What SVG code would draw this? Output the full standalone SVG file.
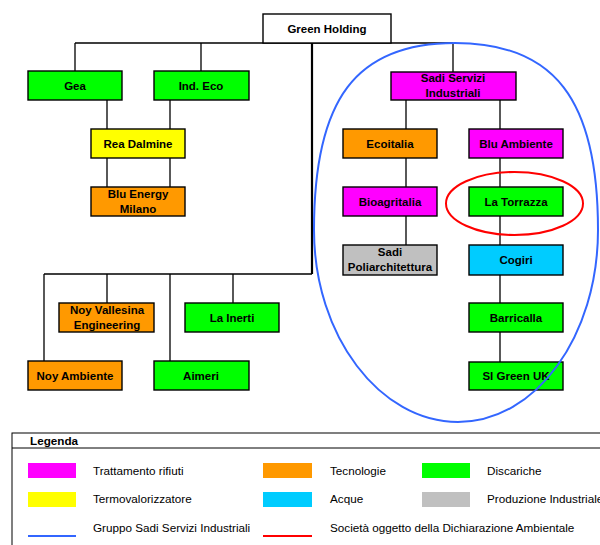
<svg xmlns="http://www.w3.org/2000/svg" width="600" height="545" viewBox="0 0 600 545">
<style>
  .box{stroke:#000;stroke-width:1.4}
  .g{fill:#00FF00}.m{fill:#FF00FF}.y{fill:#FFFF00}.o{fill:#FF9900}.c{fill:#00CCFF}.gr{fill:#C0C0C0}.w{fill:#FFFFFF}
  .t{font-family:"Liberation Sans",Arial,sans-serif;font-weight:bold;font-size:11.5px;text-anchor:middle;fill:#000}
  .lt{font-family:"Liberation Sans",Arial,sans-serif;font-size:11.7px;fill:#000}
  .ln{stroke:#000;stroke-width:1.3;fill:none}
</style>
<rect width="600" height="545" fill="#fff"/>
<g id="connectors">
  <path class="ln" d="M75 43H453M75 43V71M201 43V71M453 43V72"/>
  <path class="ln" d="M107 100V129M170 100V129M107 158V187M170 158V187"/>
  <path d="M312 43V274" stroke="#000" stroke-width="2.2" fill="none"/>
  <path class="ln" d="M44 274H312M44 274V361M107 274V303M170 274V361M233 274V303"/>
  <path class="ln" d="M406 100V129M500 100V129M406 158V187M406 216V245M500 158V187M500 216V245M500 275V303M500 332V362"/>
</g>
<g id="green-holding"><rect class="box w" x="263" y="14" width="128" height="29"/><text class="t" x="327" y="33">Green Holding</text></g>
<g id="gea"><rect class="box g" x="28" y="71" width="94" height="29"/><text class="t" x="75" y="90">Gea</text></g>
<g id="ind-eco"><rect class="box g" x="154" y="71" width="95" height="29"/><text class="t" x="201" y="90">Ind. Eco</text></g>
<g id="rea-dalmine"><rect class="box y" x="91" y="129" width="94" height="29"/><text class="t" x="138" y="148">Rea Dalmine</text></g>
<g id="blu-energy"><rect class="box o" x="91" y="187" width="94" height="29"/><text class="t" x="138" y="198">Blu Energy</text><text class="t" x="138" y="213">Milano</text></g>
<g id="noy-vallesina"><rect class="box o" x="59" y="303" width="95" height="29"/><text class="t" x="107" y="314">Noy Vallesina</text><text class="t" x="107" y="329">Engineering</text></g>
<g id="la-inerti"><rect class="box g" x="185" y="303" width="94" height="29"/><text class="t" x="232" y="322">La Inerti</text></g>
<g id="noy-ambiente"><rect class="box o" x="28" y="361" width="94" height="29"/><text class="t" x="75" y="380">Noy Ambiente</text></g>
<g id="aimeri"><rect class="box g" x="154" y="361" width="95" height="29"/><text class="t" x="201" y="380">Aimeri</text></g>
<g id="sadi-servizi"><rect class="box m" x="391" y="72" width="125" height="28"/><text class="t" x="453" y="82">Sadi Servizi</text><text class="t" x="453" y="97">Industriali</text></g>
<g id="ecoitalia"><rect class="box o" x="343" y="129" width="94" height="29"/><text class="t" x="390" y="148">Ecoitalia</text></g>
<g id="blu-ambiente"><rect class="box m" x="469" y="129" width="94" height="29"/><text class="t" x="516" y="148">Blu Ambiente</text></g>
<g id="bioagritalia"><rect class="box m" x="343" y="187" width="94" height="29"/><text class="t" x="390" y="206">Bioagritalia</text></g>
<g id="la-torrazza"><rect class="box g" x="469" y="187" width="94" height="29"/><text class="t" x="516" y="206">La Torrazza</text></g>
<g id="sadi-poliarchitettura"><rect class="box gr" x="343" y="245" width="94" height="30"/><text class="t" x="390" y="256">Sadi</text><text class="t" x="390" y="271">Poliarchitettura</text></g>
<g id="cogiri"><rect class="box c" x="469" y="245" width="94" height="30"/><text class="t" x="516" y="264">Cogiri</text></g>
<g id="barricalla"><rect class="box g" x="469" y="303" width="94" height="29"/><text class="t" x="516" y="322">Barricalla</text></g>
<g id="si-green-uk"><rect class="box g" x="469" y="362" width="94" height="28"/><text class="t" x="516" y="380">SI Green UK</text></g>
<g id="ovals">
  <path d="M314 230C314 99 356 43 455 43C554 43 598 99 598 230C598 336 536 422 458 422C380 422 314 336 314 230Z" fill="none" stroke="#3366FF" stroke-width="2"/>
  <ellipse cx="514.5" cy="203.5" rx="68.5" ry="31.5" fill="none" stroke="#FF0000" stroke-width="2"/>
</g>
<g id="legend">
  <rect x="12" y="433" width="600" height="130" fill="none" stroke="#000" stroke-width="1"/>
  <line x1="12" y1="448" x2="600" y2="448" stroke="#000" stroke-width="1"/>
  <text class="lt" x="30" y="445" font-weight="bold">Legenda</text>
  <rect x="28" y="463" width="48" height="15" fill="#FF00FF"/>
  <rect x="28" y="492" width="48" height="15" fill="#FFFF00"/>
  <line x1="28" y1="536" x2="76" y2="536" stroke="#3366FF" stroke-width="2"/>
  <text class="lt" x="93" y="475">Trattamento rifiuti</text>
  <text class="lt" x="93" y="503">Termovalorizzatore</text>
  <text class="lt" x="93" y="532">Gruppo Sadi Servizi Industriali</text>
  <rect x="263" y="463" width="49" height="15" fill="#FF9900"/>
  <rect x="263" y="492" width="49" height="15" fill="#00CCFF"/>
  <line x1="263" y1="536" x2="312" y2="536" stroke="#FF0000" stroke-width="2"/>
  <text class="lt" x="330" y="475">Tecnologie</text>
  <text class="lt" x="330" y="503">Acque</text>
  <text class="lt" x="330" y="532">Società oggetto della Dichiarazione Ambientale</text>
  <rect x="422" y="463" width="48" height="15" fill="#00FF00"/>
  <rect x="422" y="492" width="48" height="15" fill="#C0C0C0"/>
  <text class="lt" x="487" y="475">Discariche</text>
  <text class="lt" x="487" y="503">Produzione Industriale</text>
</g>
</svg>
